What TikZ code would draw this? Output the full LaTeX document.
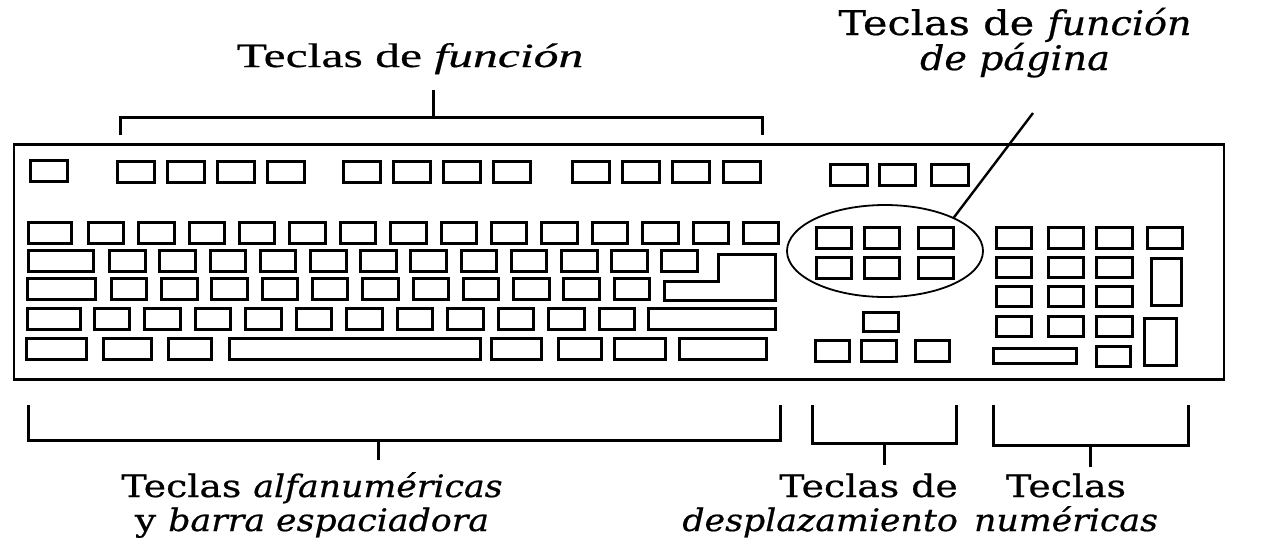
\documentclass[tikz,border=0pt]{standalone}
\usepackage{fontspec}
\setmainfont{DejaVu Serif}[FakeStretch=1.22, FakeBold=0.6, ItalicFeatures={FakeStretch=1.12}]
\newfontfamily\fuentefuncion{Liberation Serif}[FakeStretch=1.46, FakeBold=0.5]
\usetikzlibrary{positioning,shapes}
\tikzset{
	tecla/.style={
		rectangle,
		draw=black,
		line width=3pt,
		minimum width=35.5pt,
		minimum height=20.5pt,
		inner sep=0pt
	},
	caja/.style={
		rectangle,
		draw=black,
		line width=2.4pt,
		inner sep=0pt
	},
	zona/.style={
		ellipse,
		draw=black,
		line width=1.8pt,
		minimum width=196pt,
		minimum height=92pt
	},
	corchete/.style={
		draw=black,
		line width=3pt
	},
	guia/.style={
		draw=black,
		line width=2.4pt
	},
	rotulo/.style={
		align=center,
		inner sep=0pt,
		anchor=base,
		font=\fontsize{31}{34}\selectfont
	},
}

\begin{document}
\begin{tikzpicture}[x=1pt,y=-1pt]
	\useasboundingbox (0,0) rectangle (1273,542);
	\node [caja, minimum width=1210pt, minimum height=235pt] (teclado) at (619,262) {};
	% teclas de funcion
	\node [tecla, minimum width=36.5pt] (esc) at (49,171) {};
	\foreach \x [count=\i] in {136,186,236,286,362,412,462,512,591,641,691,742}
		\node [tecla, minimum width=36.5pt] (f\i) at (\x,172) {};
	\foreach \x [count=\i] in {849,897.5,950}
		\node [tecla, minimum width=36.5pt] (imp\i) at (\x,175) {};
	% bloque alfanumerico
	\node [tecla, minimum width=42.5pt] (r1k0) at (50,233) {};
	\foreach \i in {1,...,14}
		\node [tecla] (r1k\i) at ({106+50.4*(\i-1)},233) {};
	\node [tecla, minimum width=65.5pt] (tab) at (61,261) {};
	\foreach \i in {1,...,12}
		\node [tecla] (r2k\i) at ({127.5+50.2*(\i-1)},261) {};
	\draw [line width=3pt] (718.5,254.5) -- (775.5,254.5) -- (775.5,300.5) -- (664.5,300.5) -- (664.5,281.5) -- (718.5,281.5) -- cycle;
	\node [tecla, minimum width=68.5pt] (bloq) at (61.5,289) {};
	\foreach \i in {1,...,11}
		\node [tecla] (r3k\i) at ({129+50.3*(\i-1)},289) {};
	\node [tecla, minimum width=53.5pt] (shiftI) at (54,319) {};
	\foreach \i in {1,...,11}
		\node [tecla] (r4k\i) at ({112+50.5*(\i-1)},319) {};
	\node [tecla, minimum width=127.5pt] (shiftD) at (712,319) {};
	\foreach \x/\w [count=\i] in {56.5/60.5,127.5/48.5,190/43.5,355/251.5,516.5/50.5,580/43.5,640/51.5,723/87.5}
		\node [tecla, minimum width=\w*1pt] (r5k\i) at (\x,349) {};
	% desplazamiento
	\foreach \x [count=\i] in {834,882,936}{
		\node [tecla] (ins\i) at (\x,238) {};
		\node [tecla] (supr\i) at (\x,268) {};
	}
	\node [tecla, minimum height=18.5pt] (arriba) at (881,322) {};
	\foreach \x [count=\i] in {832.5,879,932.5}
		\node [tecla, minimum width=34.5pt] (flecha\i) at (\x,351) {};
	\node [zona] (paginas) at (885,251) {};
	% teclado numerico
	\foreach \x [count=\i] in {1014,1066,1114.5,1165}
		\node [tecla] (n1k\i) at (\x,238) {};
	\foreach \y [count=\j] in {267.5,296.5,326.5}
		\foreach \x [count=\i] in {1014,1066,1114.5}
			\node [tecla] (n\j k\i) at (\x,\y) {};
	\node [tecla, minimum width=30.5pt, minimum height=47.5pt] (mas) at (1166.5,282) {};
	\node [tecla, minimum width=32.5pt, minimum height=47.5pt] (intro) at (1160.5,342) {};
	\node [tecla, minimum width=83.5pt, minimum height=15.5pt] (cero) at (1035,356) {};
	\node [tecla, minimum width=34.5pt] (punto) at (1113.5,356.5) {};

	% rotulos
	\node [rotulo, font=\fuentefuncion\fontsize{34}{36}\selectfont] (funcion) at (410,67) {Teclas de \textit{función}};
	\node [rotulo, font=\fontsize{34}{35}\selectfont] (pagina) at (1015,70) {Teclas de \textit{función}\\\textit{de página}};
	\node [rotulo] (alfa) at (312,531) {Teclas \textit{alfanuméricas}\\y \textit{barra espaciadora}};
	\node [rotulo, align=right, anchor=base east] (desp) at (958,531) {Teclas de\\\textit{desplazamiento}};
	\node [rotulo] (num) at (1066,531) {Teclas\\\textit{numéricas}};

	% corchetes
	\draw [corchete] (120,135) -- (120,117) -- (762,117) -- (762,135);
	\draw [corchete] (433,117) -- (433,90);
	\draw [corchete] (28,405) -- (28,440) -- (780,440) -- (780,405);
	\draw [corchete] (378,440) -- (378,460);
	\draw [corchete] (812,405) -- (812,443) -- (956,443) -- (956,405);
	\draw [corchete] (884,443) -- (884,465);
	\draw [corchete] (993,405) -- (993,445) -- (1188,445) -- (1188,405);
	\draw [corchete] (1090,445) -- (1090,467);
	\coordinate (guiafin) at (1033,113);
	\draw [guia] (paginas.26) -- (guiafin);
\end{tikzpicture}
\end{document}
